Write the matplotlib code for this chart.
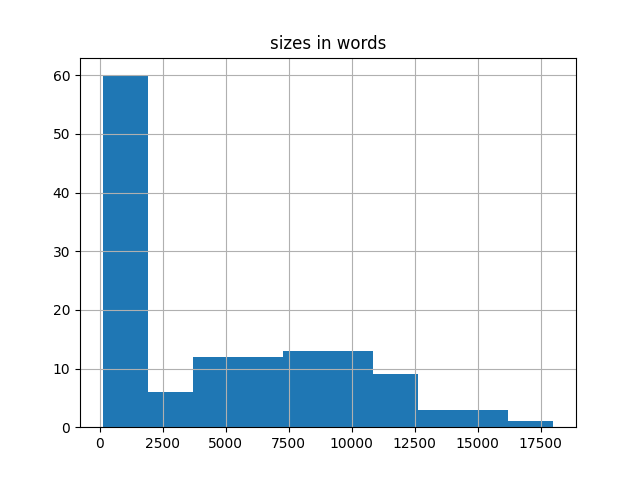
import numpy as np
import matplotlib
matplotlib.use("Agg")
import matplotlib.pyplot as plt

# histogram of document sizes
size_min = 110
size_max = 18000
counts = [60, 6, 12, 12, 13, 13, 9, 3, 3, 1]

edges = np.linspace(size_min, size_max, len(counts) + 1)

fig, ax = plt.subplots(figsize=(6.4, 4.8), dpi=100)
ax.hist(edges[:-1], bins=edges, weights=counts, color="#1f77b4")
ax.grid(True)
ax.set_title("sizes in words")

fig.savefig("out.png")
